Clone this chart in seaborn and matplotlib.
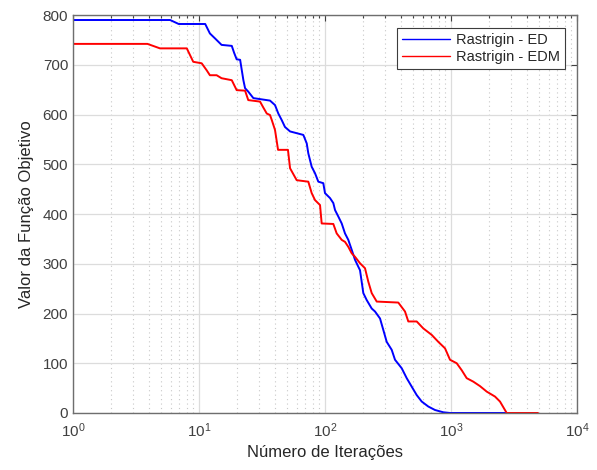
import numpy as np
import pandas as pd
import matplotlib
matplotlib.use("Agg")
import matplotlib.pyplot as plt
import seaborn as sns
from matplotlib.ticker import LogLocator, NullFormatter, MultipleLocator

# ---- data ----
ed_x = [1, 5.9, 6.9, 11.2, 12.2, 13.4, 15.1, 18.2, 19.0, 19.9, 21.2, 22.5, 23.2, 24.6, 27.0,
        36.6, 40.1, 42.6, 45.3, 48.1, 52.8, 67.3, 71.6, 73.7, 78.4, 83.3, 88.5, 96.9, 100,
        109.6, 116.4, 120.1, 127.5, 135.7, 144.1, 153.1, 162.9, 173.0, 183.8, 189.6, 201.4,
        214.3, 234.8, 249.4, 273.3, 290.2, 308.8, 338.3, 359.4, 406.1, 445.1, 487.6, 534.3,
        585.5, 660.3, 746.5, 868.9, 982, 2767]
ed_y = [790, 790, 782, 782, 763, 753, 740, 738, 724, 711, 710, 669, 653, 646, 633,
        628, 619, 602, 589, 575, 566, 559, 542, 522, 495, 482, 465, 462, 442,
        432, 422, 408, 395, 381, 361, 348, 328, 308, 294, 287, 241,
        227, 210, 204, 190, 167, 143, 127, 107, 90, 70, 53, 36,
        23, 13, 6, 1.4, 0, 0]

edm_x = [1, 3.9, 4.9, 8.0, 9.0, 10.5, 11.5, 12.2, 13.8, 15.1, 18.2, 19.9, 23.2, 24.6, 30.5,
         32.4, 34.5, 36.6, 37.8, 40.1, 42.4, 50.8, 52.8, 59.6, 73.7, 78.4, 83.3, 91.3, 94.1,
         116.4, 123.8, 135.7, 144.1, 153.1, 162.9, 173.0, 189.6, 207.7, 220.6, 234.8, 257.3,
         381.6, 431.4, 458.3, 534.3, 602.9, 702.8, 793, 896.5, 982, 1110, 1216, 1332, 1503,
         1699, 1920, 2235, 2448, 2767, 4900]
edm_y = [742, 742, 733, 733, 706, 703, 689, 679, 679, 673, 669, 649, 648, 629, 626,
         614, 602, 599, 589, 569, 529, 529, 492, 468, 465, 442, 428, 418, 381,
         380, 361, 348, 344, 334, 321, 314, 301, 291, 264, 241, 224,
         222, 204, 184, 184, 170, 157, 143, 130, 107, 100, 86, 70, 63,
         54, 43, 33, 23, 0, 0]

series_names = ["Rastrigin - ED", "Rastrigin - EDM"]
x_label = "Número de Iterações"
y_label = "Valor da Função Objetivo"

df = pd.concat([
    pd.DataFrame({"it": ed_x, "val": ed_y, "serie": series_names[0]}),
    pd.DataFrame({"it": edm_x, "val": edm_y, "serie": series_names[1]}),
], ignore_index=True)

sns.set_style("white")
plt.rcParams["font.family"] = ["Liberation Sans", "DejaVu Sans"]
plt.rcParams["mathtext.fontset"] = "custom"
plt.rcParams["mathtext.rm"] = "Liberation Sans"
plt.rcParams["mathtext.it"] = "Liberation Sans:italic"

fig = plt.figure(figsize=(5.97, 4.70), dpi=100)
ax = fig.add_axes([0.1223, 0.1213, 0.9665 - 0.1223, 0.968 - 0.1213])

sns.lineplot(data=df, x="it", y="val", hue="serie", estimator=None, sort=False,
             palette={series_names[0]: "#0000ff", series_names[1]: "#ff0000"},
             linewidth=1.4, ax=ax)

ax.set_xscale("log")
ax.set_xlim(1, 1e4)
ax.set_ylim(0, 800)
ax.yaxis.set_major_locator(MultipleLocator(100))
ax.xaxis.set_major_locator(LogLocator(base=10, numticks=10))
ax.xaxis.set_minor_locator(LogLocator(base=10, subs=np.arange(2, 10), numticks=20))
ax.xaxis.set_minor_formatter(NullFormatter())

ax.grid(True, which="major", axis="both", color="#dcdcdc", linewidth=0.9, linestyle="-")
ax.grid(True, which="minor", axis="x", color="#c8c8c8", linewidth=0.8, linestyle=(0, (1, 3)))
ax.set_axisbelow(True)

for s in ax.spines.values():
    s.set_color("#6e6e6e")
    s.set_linewidth(1.0)
ax.tick_params(which="both", direction="in", top=True, right=True, colors="#404040",
               labelsize=11, length=4, width=0.8)
ax.tick_params(which="minor", length=2.5)
ax.tick_params(axis="x", pad=6)

ax.set_xlabel(x_label, fontsize=12, color="#262626", labelpad=4)
ax.set_ylabel(y_label, fontsize=12, color="#262626", labelpad=6)

leg = ax.legend(loc="upper right", bbox_to_anchor=(0.976, 0.967), borderaxespad=0,
                fontsize=10.5, frameon=True, fancybox=False, framealpha=1,
                edgecolor="#3c3c3c", handlelength=3.3, borderpad=0.35,
                labelspacing=0.2, handletextpad=0.4)
leg.get_frame().set_linewidth(0.8)
for line in leg.get_lines():
    line.set_linewidth(1.0)

fig.savefig("out.png", dpi=100)
